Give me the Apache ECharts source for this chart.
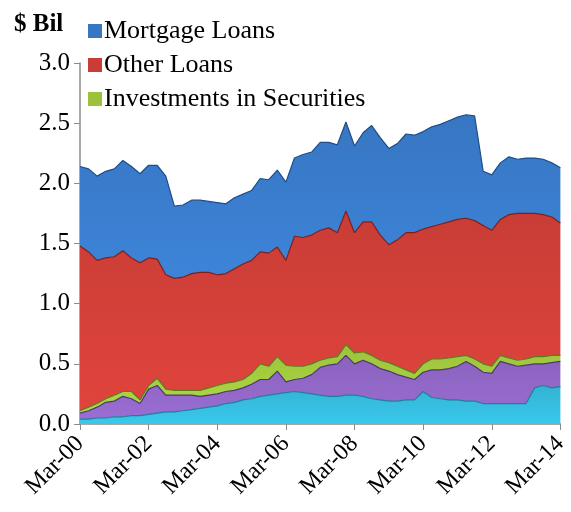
<!DOCTYPE html>
<html>
<head>
<meta charset="utf-8">
<script src="https://cdn.jsdelivr.net/npm/echarts@6/dist/echarts.min.js"></script>
<style>
    html, body { margin: 0; padding: 0; background: #fff; }
    #chart { width: 571px; height: 512px; }
</style>
</head>
<body>
<div id="chart"></div>
<script>
// quarterly, Mar-00 .. Mar-14
const quarters = [];
for (let y = 0; y <= 14; y++) {
    for (const m of ['Mar', 'Jun', 'Sep', 'Dec']) {
        if (y === 14 && m !== 'Mar') break;
        quarters.push(m + '-' + String(y).padStart(2, '0'));
    }
}

const yTicks = [0, 0.5, 1.0, 1.5, 2.0, 2.5, 3.0];

// $ Bil, stacked bottom -> top
const cashValues = [0.04, 0.04, 0.05, 0.05, 0.06, 0.06, 0.07, 0.07, 0.08, 0.09, 0.10, 0.10, 0.11, 0.12, 0.13,
    0.14, 0.15, 0.17, 0.18, 0.20, 0.21, 0.23, 0.24, 0.25, 0.26, 0.27, 0.26, 0.25, 0.24, 0.23,
    0.23, 0.24, 0.24, 0.23, 0.21, 0.20, 0.19, 0.19, 0.20, 0.20, 0.27, 0.22, 0.21, 0.20, 0.20,
    0.19, 0.19, 0.17, 0.17, 0.17, 0.17, 0.17, 0.17, 0.30, 0.32, 0.30, 0.31];
const otherAssets = [0.05, 0.07, 0.09, 0.13, 0.13, 0.17, 0.14, 0.10, 0.21, 0.23, 0.14, 0.14, 0.13, 0.12, 0.10,
    0.10, 0.10, 0.10, 0.10, 0.10, 0.12, 0.14, 0.13, 0.19, 0.09, 0.10, 0.12, 0.16, 0.23, 0.26,
    0.27, 0.33, 0.26, 0.30, 0.29, 0.26, 0.25, 0.22, 0.19, 0.17, 0.16, 0.23, 0.24, 0.26, 0.28,
    0.33, 0.29, 0.26, 0.25, 0.35, 0.33, 0.31, 0.32, 0.20, 0.18, 0.21, 0.21];
const securities = [0.02, 0.03, 0.03, 0.03, 0.05, 0.04, 0.06, 0.03, 0.03, 0.06, 0.05, 0.04, 0.04, 0.04, 0.05,
    0.06, 0.07, 0.07, 0.07, 0.07, 0.09, 0.13, 0.11, 0.12, 0.14, 0.11, 0.10, 0.09, 0.06, 0.06,
    0.06, 0.09, 0.09, 0.07, 0.07, 0.07, 0.07, 0.07, 0.06, 0.05, 0.07, 0.09, 0.09, 0.09, 0.08,
    0.05, 0.06, 0.07, 0.06, 0.05, 0.05, 0.05, 0.05, 0.06, 0.06, 0.06, 0.05];
const otherLoans = [1.37, 1.29, 1.19, 1.17, 1.15, 1.17, 1.11, 1.14, 1.06, 0.99, 0.95, 0.93, 0.94, 0.97, 0.98,
    0.96, 0.92, 0.91, 0.94, 0.96, 0.94, 0.93, 0.94, 0.91, 0.87, 1.08, 1.07, 1.07, 1.08, 1.08,
    1.03, 1.11, 1.00, 1.08, 1.11, 1.04, 0.98, 1.05, 1.14, 1.17, 1.12, 1.10, 1.12, 1.13, 1.14,
    1.14, 1.15, 1.15, 1.13, 1.13, 1.19, 1.22, 1.21, 1.19, 1.18, 1.15, 1.10];
const mortgageLoans = [0.66, 0.69, 0.70, 0.72, 0.73, 0.75, 0.76, 0.74, 0.77, 0.78, 0.82, 0.60, 0.60, 0.61, 0.60,
    0.59, 0.60, 0.58, 0.59, 0.58, 0.58, 0.61, 0.61, 0.64, 0.65, 0.65, 0.69, 0.69, 0.73, 0.71,
    0.73, 0.74, 0.72, 0.74, 0.80, 0.81, 0.80, 0.80, 0.82, 0.81, 0.81, 0.83, 0.83, 0.84, 0.85,
    0.86, 0.87, 0.45, 0.46, 0.47, 0.48, 0.45, 0.46, 0.46, 0.46, 0.45, 0.46];

const serif = '"Liberation Serif", "DejaVu Serif", serif';

function layer(name, data, fill, edge) {
    return {
        name: name,
        type: 'line',
        stack: 'total',
        data: data,
        symbol: 'none',
        lineStyle: { width: 1.2, color: edge },
        itemStyle: { color: fill },
        areaStyle: {
            opacity: 1,
            color: new echarts.graphic.LinearGradient(0, 0, 0, 1, [
                { offset: 0, color: fill },
                { offset: 1, color: echarts.color.lift(fill, -0.12) }
            ])
        },
        emphasis: { disabled: true }
    };
}

const chart = echarts.init(document.getElementById('chart'));
chart.setOption({
    animation: false,
    title: {
        text: '$ Bil',
        left: 9,
        top: 7,
        textStyle: { fontFamily: serif, fontWeight: 'bold', fontSize: 25, color: '#000' }
    },
    legend: {
        data: ['Mortgage Loans', 'Other Loans', 'Investments in Securities'],
        orient: 'vertical',
        left: 83,
        top: 13,
        itemWidth: 14,
        itemHeight: 14,
        itemGap: 8,
        icon: 'rect',
        textStyle: { fontFamily: serif, fontSize: 26, color: '#000', padding: [0, 0, 0, -3] }
    },
    grid: { left: 80, right: 5, top: 63, bottom: 88 },
    xAxis: {
        type: 'category',
        data: quarters,
        boundaryGap: false,
        axisLine: { lineStyle: { color: '#8c8c8c', width: 1.5 } },
        axisTick: { interval: 7, length: 6, lineStyle: { color: '#8c8c8c' } },
        axisLabel: {
            interval: 7,
            rotate: 45,
            fontFamily: serif,
            fontSize: 24,
            color: '#000',
            margin: 16
        }
    },
    yAxis: {
        type: 'value',
        min: yTicks[0],
        max: yTicks[yTicks.length - 1],
        interval: 0.5,
        splitLine: { show: false },
        axisLine: { show: true, lineStyle: { color: '#8c8c8c', width: 1.5 } },
        axisTick: { show: true, length: 6, lineStyle: { color: '#8c8c8c' } },
        axisLabel: {
            fontFamily: serif,
            fontSize: 25,
            color: '#000',
            margin: 10,
            formatter: v => v.toFixed(1)
        }
    },
    series: [
        layer('Cash', cashValues, '#33b3d3', '#1f7f99'),
        layer('Other Assets', otherAssets, '#8a62bd', '#4e3573'),
        layer('Investments in Securities', securities, '#9cc23d', '#5d7a1e'),
        layer('Other Loans', otherLoans, '#c83d36', '#7e1f1a'),
        layer('Mortgage Loans', mortgageLoans, '#3776c2', '#1f4d85')
    ]
});
</script>
</body>
</html>
